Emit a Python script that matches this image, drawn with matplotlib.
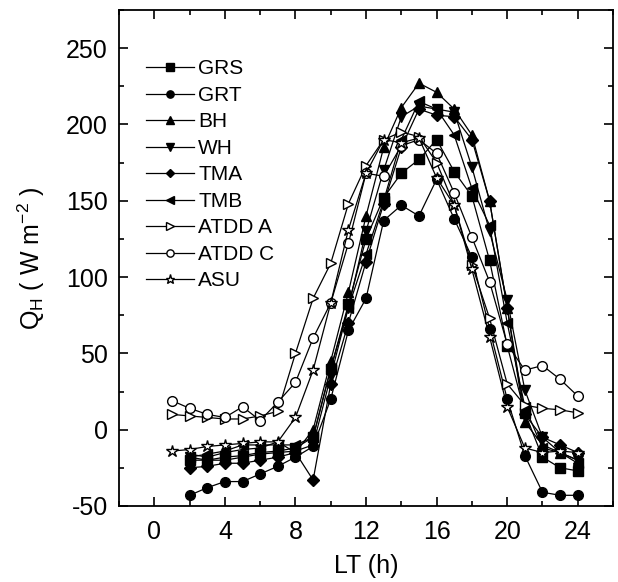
import matplotlib
matplotlib.use("Agg")
import matplotlib.pyplot as plt
from matplotlib.ticker import MultipleLocator

plt.rcParams['font.family'] = ['Liberation Sans', 'DejaVu Sans']
plt.rcParams['mathtext.fontset'] = 'custom'
plt.rcParams['mathtext.rm'] = 'Liberation Sans'
plt.rcParams['mathtext.it'] = 'Liberation Sans'
plt.rcParams['axes.unicode_minus'] = False

hours_open = list(range(1, 25))
hours_filled = list(range(2, 25))

GRS = [-20, -20, -18, -17, -15, -14, -12, -5, 40, 82, 125, 152, 168, 177, 190, 169, 153, 111, 55, 11, -18, -25, -27]
GRT = [-43, -38, -34, -34, -29, -24, -18, -11, 20, 65, 86, 137, 147, 140, 164, 138, 113, 66, 20, -17, -41, -43, -43]
BH = [-16, -18, -15, -13, -12, -8, -15, 0, 45, 90, 140, 185, 211, 227, 221, 210, 193, 150, 80, 5, -10, -15, -20]
WH = [-18, -20, -20, -18, -16, -15, -14, -10, 35, 80, 130, 170, 205, 212, 210, 208, 172, 130, 85, 26, -5, -15, -20]
TMA = [-25, -24, -22, -22, -20, -18, -15, -33, 30, 70, 110, 148, 185, 210, 206, 205, 190, 150, 80, 10, -5, -10, -15]
TMB = [-18, -16, -14, -10, -10, -10, -10, -5, 40, 80, 115, 150, 190, 215, 210, 193, 158, 134, 70, 15, -12, -15, -22]
ATDD_A = [10, 9, 8, 7, 7, 9, 12, 50, 86, 109, 148, 173, 190, 195, 192, 175, 147, 108, 73, 30, 16, 14, 13, 11]
ATDD_C = [19, 14, 10, 8, 15, 6, 18, 31, 60, 83, 122, 168, 166, 186, 190, 181, 155, 126, 97, 56, 39, 42, 33, 22]
ASU = [-14, -13, -11, -10, -9, -8, -8, 8, 39, 83, 131, 168, 190, 188, 191, 165, 147, 105, 61, 15, -12, -15, -14, -15]

series = [
    ("GRS", hours_filled, GRS, 's', 'black'),
    ("GRT", hours_filled, GRT, 'o', 'black'),
    ("BH", hours_filled, BH, '^', 'black'),
    ("WH", hours_filled, WH, 'v', 'black'),
    ("TMA", hours_filled, TMA, 'D', 'black'),
    ("TMB", hours_filled, TMB, '<', 'black'),
    ("ATDD A", hours_open, ATDD_A, '>', 'white'),
    ("ATDD C", hours_open, ATDD_C, 'o', 'white'),
    ("ASU", hours_open, ASU, '*', 'white'),
]

fig = plt.figure(figsize=(6.18, 5.82), dpi=100)
ax = fig.add_axes([0.1926, 0.1306, 0.7994, 0.8524])

for name, x, y, m, fc in series:
    ms = 7
    if m == 'D':
        ms = 6
    if m == '*':
        ms = 9
    ax.plot(x, y, color='black', lw=0.9, marker=m, markersize=ms,
            markerfacecolor=fc, markeredgecolor='black', markeredgewidth=1.0,
            label=name)

ax.set_xlim(-2, 26)
ax.set_ylim(-50, 275)
ax.xaxis.set_major_locator(MultipleLocator(4))
ax.xaxis.set_minor_locator(MultipleLocator(2))
ax.yaxis.set_major_locator(MultipleLocator(50))
ax.yaxis.set_minor_locator(MultipleLocator(25))
ax.tick_params(which='both', direction='in', top=True, right=True, labelsize=18, width=1.2)
ax.tick_params(which='major', length=6.5)
ax.tick_params(which='minor', length=3.5)
ax.tick_params(axis='x', which='both', pad=10)
ax.tick_params(axis='y', which='both', pad=8)
for s in ax.spines.values():
    s.set_linewidth(1.3)

ax.set_xlabel('LT (h)', fontsize=18, labelpad=7)
ax.set_ylabel(r'Q$_\mathregular{H}$ ( W m$^{\mathregular{-2}}$ )', fontsize=18, labelpad=4)
ax.yaxis.set_label_coords(-0.145, 0.5)

leg = ax.legend(loc='upper left', bbox_to_anchor=(0.0, 0.955), frameon=False, fontsize=15,
                handlelength=2.3, handletextpad=0.2, labelspacing=0.36, markerscale=0.75,
                borderaxespad=0.9)

fig.savefig('out.png', dpi=100)
